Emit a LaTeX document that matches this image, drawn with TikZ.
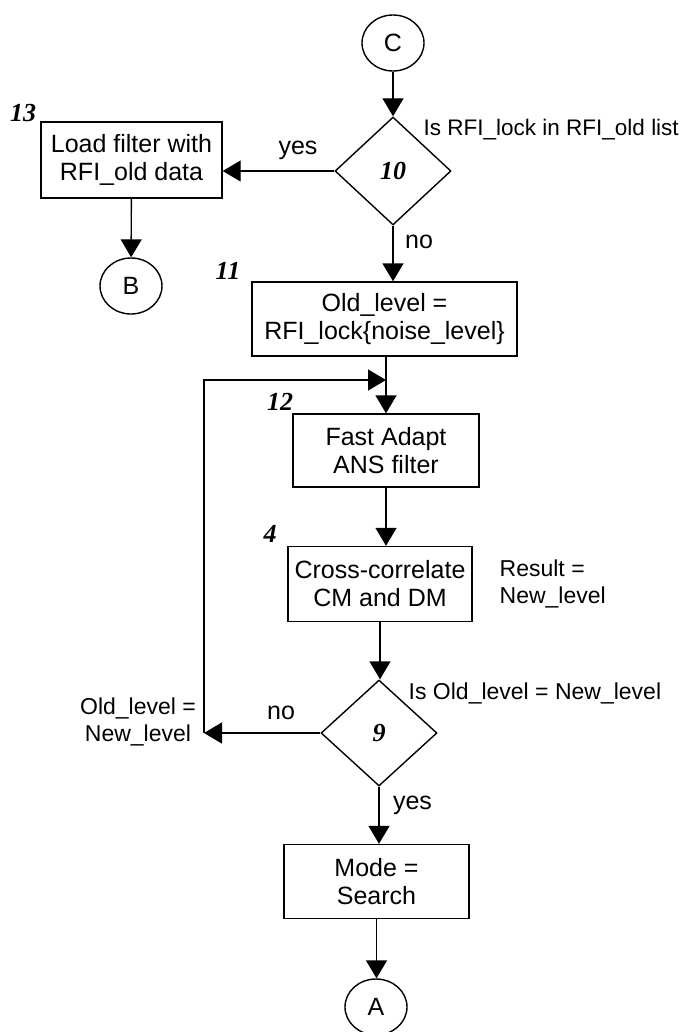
\documentclass[tikz,border=0pt]{standalone}
\usepackage{fontspec}
\setmainfont{Liberation Sans}
\newfontfamily\numfont{Liberation Serif}
\usetikzlibrary{shapes.geometric,arrows.meta}

\begin{document}
\begin{tikzpicture}[x=1pt,y=-1pt,
  line width=1.4pt,
  every node/.style={font=\fontsize{25}{28}\selectfont},
  side/.style={font=\fontsize{23}{27}\selectfont},
  box/.style={draw, rectangle, inner sep=0pt, align=center},
  conn/.style={draw, ellipse, inner sep=0pt, minimum width=62pt, minimum height=56pt},
  decision/.style={draw, diamond, inner sep=0pt, minimum width=116pt, minimum height=108pt,
                   font=\numfont\bfseries\itshape\fontsize{26}{28}\selectfont},
  tag/.style={font=\numfont\bfseries\itshape\fontsize{26}{28}\selectfont},
  arr/.style={-{Triangle[length=18pt,width=21pt]}},
]
\useasboundingbox (0,0) rectangle (682,1032);

% main column
\node[conn] (C) at (393,43) {C};
\node[decision] (d10) at (393,171) {10};
\node[side, anchor=west, inner sep=0pt, font=\fontsize{22.5}{27}\selectfont] (q10) at (423,130)
  {Is RFI\_lock in RFI\_old list};

\node[box, minimum width=181pt, minimum height=76pt] (b13) at (131.5,160)
  {Load filter with\\RFI\_old data};
\node[tag] (t13) at (23,113) {13};
\node[conn] (B) at (131,286) {B};
\node (y10) at (298,150) {yes};
\node (n10) at (419,242) {no};

\node[box, minimum width=265pt, minimum height=74pt] (b11) at (384.5,319)
  {Old\_level =\\RFI\_lock\{noise\_level\}};
\node[tag] (t11) at (228,271) {11};

\node[box, minimum width=186pt, minimum height=73pt] (b12) at (386,450.5)
  {Fast Adapt\\ANS filter};
\node[tag] (t12) at (280,402) {12};

\node[box, minimum width=184pt, minimum height=75pt] (b4) at (380,584)
  {Cross-correlate\\CM and DM};
\node[tag] (t4) at (270,534) {4};
\node[side, anchor=west, align=left, inner sep=0pt] (res) at (499,584) {Result =\\New\_level};

\node[decision, minimum height=106pt] (d9) at (379,733) {9};
\node[side, anchor=west, inner sep=0pt] (q9) at (408,693) {Is Old\_level = New\_level};
\node (n9) at (281,713) {no};
\node[side, align=center] (ol) at (138,722) {Old\_level =\\New\_level};
\node[anchor=west] (y9) at (389,805) {yes};

\node[box, minimum width=185pt, minimum height=74pt] (bm) at (376.5,881.5)
  {Mode =\\Search};
\node[conn] (A) at (376,1007) {A};

% loop-back corner
\coordinate (lc) at (204,380);

% connectors
\draw[arr] (C) -- (d10);
\draw[arr] (d10.west) -- (d10.west -| b13.east);
\draw[arr] (b13) -- (B);
\draw[arr] (d10.south) -- (d10.south |- b11.north);
\draw[arr] (b12.north |- b11.south) -- (b12.north);
\draw[arr] (b12.south) -- (b12.south |- b4.north);
\draw[arr] (b4.south) -- (b4.south |- d9.north);
\draw[arr] (d9.west) -- (d9.west -| lc);
\draw[arr] (d9.west -| lc) -- (lc) -- (lc -| b12.north);
\draw[arr] (d9.south) -- (d9.south |- bm.north);
\draw[arr] (bm.south) -- (bm.south |- A.north);
\end{tikzpicture}
\end{document}
